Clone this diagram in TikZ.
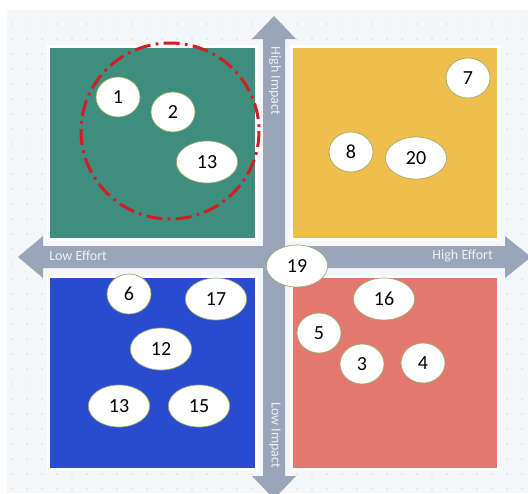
\documentclass[tikz,border=0pt]{standalone}
\usepackage{fontspec}
\setmainfont{Carlito}
\usetikzlibrary{shapes.geometric}
\definecolor{panel}{RGB}{245,246,248}
\definecolor{dotgray}{RGB}{214,218,224}
\definecolor{quadgreen}{RGB}{62,141,126}
\definecolor{quadyellow}{RGB}{240,190,76}
\definecolor{quadblue}{RGB}{40,76,205}
\definecolor{quadred}{RGB}{228,120,113}
\definecolor{axisgray}{RGB}{154,165,185}
\definecolor{ringred}{RGB}{212,28,34}
\definecolor{olive}{RGB}{150,172,100}
\definecolor{labelwhite}{RGB}{238,241,246}

\tikzset{
  quad/.style={draw=white, line width=2.25pt},
  idea/.style={ellipse, draw=olive, line width=0.5pt, fill=white, inner sep=0pt,
    minimum width=33pt, minimum height=30pt, font=\fontsize{15}{18}\selectfont},
  wideidea/.style={idea, minimum width=46pt, minimum height=31.5pt},
  axislabel/.style={inner sep=0pt, text=labelwhite, font=\fontsize{10.5}{12}\selectfont}
}

\begin{document}
\begin{tikzpicture}[x=0.75pt,y=0.75pt,yscale=-1,xscale=1]
\useasboundingbox (0,0) rectangle (528,493);
\clip (0,0) rectangle (528,493);

%Shape: background panel with dot grid
\fill [white] (0,0) rectangle (528,493);
\fill [panel] (7,10) rectangle (528,493);
\foreach \gx in {12,27,...,522}
  \foreach \gy in {24,39,...,489}
    \fill [dotgray] (\gx,\gy) circle (0.9);

%Shape: quadrants
\draw [quad, fill=quadgreen] (48,46) rectangle (256,239);
\draw [quad, fill=quadyellow] (291,46) rectangle (498,239);
\draw [quad, fill=quadblue] (48,276) rectangle (256,469);
\draw [quad, fill=quadred] (291,276) rectangle (498,469);

%Shape: vertical axis arrow
\fill [axisgray] (274,16) -- (296,39) -- (285,39) -- (285,476) -- (296,476) -- (274,499)
  -- (252,476) -- (263,476) -- (263,39) -- (252,39) -- cycle;
%Shape: horizontal axis arrow
\fill [axisgray] (18,257) -- (43,236) -- (43,246) -- (505,246) -- (505,236) -- (531,257)
  -- (505,278) -- (505,268) -- (43,268) -- (43,278) -- cycle;

% Text Node
\node (highimpact) [axislabel, rotate=-90] at (275,81) {High Impact};
\node (lowimpact) [axislabel, rotate=-90] at (275,435) {Low Impact};
\node (loweffort) [axislabel, anchor=west] at (49,256) {Low Effort};
\node (higheffort) [axislabel, anchor=east] at (493,256) {High Effort};

%Shape: dash-dot ring
\draw [ringred, line width=2.25pt, dash pattern=on 12pt off 4pt on 2pt off 4pt]
  (170,131) ellipse (89 and 88);

% Idea nodes
\node (i1) [idea] at (118,97) {1};
\node (i2) [idea] at (173,112) {2};
\node (i13a) [wideidea] at (207,162) {13};
\node (i7) [idea] at (468,78) {7};
\node (i8) [idea] at (351,152) {8};
\node (i20) [wideidea] at (416,158) {20};
\node (i19) [wideidea] at (297,266) {19};
\node (i6) [idea] at (129,294) {6};
\node (i17) [wideidea] at (216,299) {17};
\node (i12) [wideidea] at (161,349) {12};
\node (i13b) [wideidea] at (119,406) {13};
\node (i15) [wideidea] at (199,406) {15};
\node (i16) [wideidea] at (384,299) {16};
\node (i5) [idea] at (319,333) {5};
\node (i3) [idea] at (362,364) {3};
\node (i4) [idea] at (423,363) {4};

\end{tikzpicture}
\end{document}
